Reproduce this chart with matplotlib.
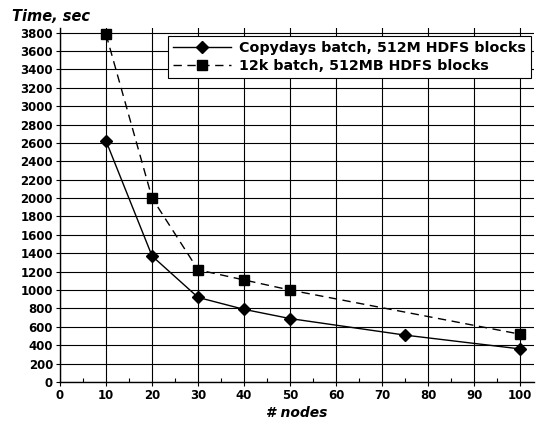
import matplotlib
matplotlib.use("Agg")
import matplotlib.pyplot as plt
from matplotlib.ticker import MultipleLocator

nodes_copy = [10, 20, 30, 40, 50, 75, 100]
time_copy = [2620, 1370, 920, 790, 690, 510, 360]
nodes_12k = [10, 20, 30, 40, 50, 100]
time_12k = [3780, 2000, 1220, 1110, 1000, 520]
label_copy = "Copydays batch, 512M HDFS blocks"
label_12k = "12k batch, 512MB HDFS blocks"
yticks = list(range(0, 3801, 200))
xticks = list(range(0, 101, 10))

plt.rcParams['font.family'] = ['DejaVu Sans']
plt.rcParams['font.weight'] = 'bold'

fig = plt.figure(figsize=(5.41, 4.24), dpi=100)
ax = fig.add_axes([0.111, 0.099, 0.876, 0.835])

ax.plot(nodes_copy, time_copy, '-', color='black', lw=1.0, marker='D', markersize=6.5,
        label=label_copy, zorder=3)
ax.plot(nodes_12k, time_12k, '--', color='black', lw=1.0, marker='s', markersize=7.5,
        dashes=(6, 4), label=label_12k, zorder=3)

ax.set_xlim(0, 103)
ax.set_ylim(0, 3850)
ax.set_xticks(xticks)
ax.set_yticks(yticks)
ax.xaxis.set_minor_locator(MultipleLocator(5))
ax.grid(True, which='major', color='black', lw=0.8)
ax.spines['top'].set_visible(False)
ax.spines['right'].set_visible(False)
ax.spines['left'].set_linewidth(1.0)
ax.spines['bottom'].set_linewidth(1.0)
ax.tick_params(axis='both', which='major', labelsize=8.5, length=3, width=0.8, direction='out', pad=2)
ax.tick_params(axis='x', which='minor', length=3, width=0.8, direction='in')
for lab in ax.get_xticklabels() + ax.get_yticklabels():
    lab.set_fontweight('bold')

fig.text(0.022, 0.962, "Time, sec", fontsize=10.5, fontweight='bold', fontstyle='italic',
         ha='left', va='center')
ax.set_xlabel("# nodes", fontsize=10, fontweight='bold', fontstyle='italic', labelpad=3)

leg = ax.legend(loc='upper right', bbox_to_anchor=(1.0, 0.985),
                prop={'weight': 'bold', 'size': 10.3}, frameon=True, fancybox=False,
                edgecolor='black', framealpha=1, borderpad=0.35, labelspacing=0.3,
                handlelength=4.0, handletextpad=0.6, borderaxespad=0.2)
leg.get_frame().set_linewidth(0.8)

fig.savefig("out.png", dpi=100)
